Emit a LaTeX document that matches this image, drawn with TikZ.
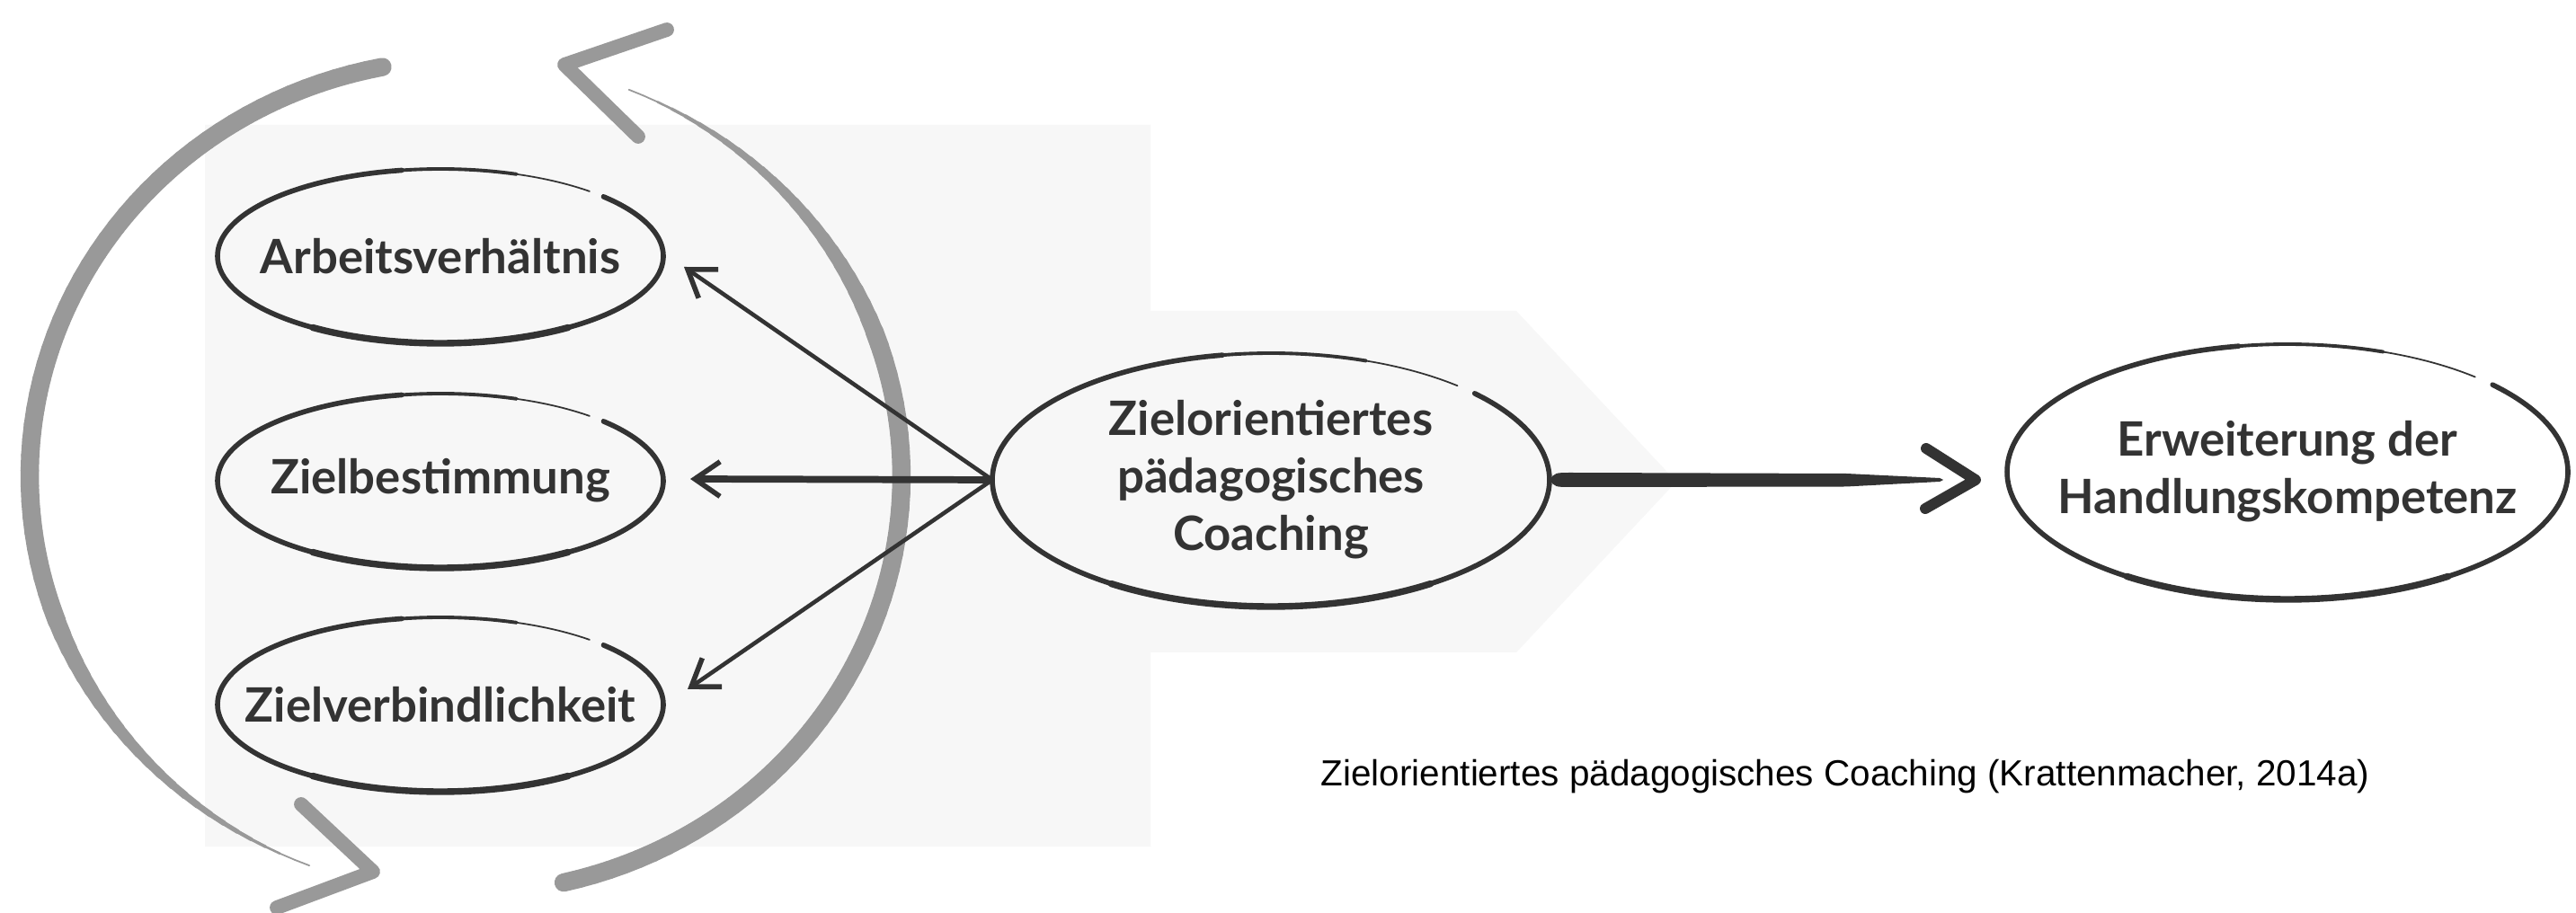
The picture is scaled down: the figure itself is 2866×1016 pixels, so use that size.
\documentclass[tikz,border=0pt]{standalone}
\usepackage{fontspec}
\newfontfamily\labelfont{Lato}
\newfontfamily\captionfont{Liberation Sans}
\usetikzlibrary{shapes.geometric,arrows.meta,calc}
\definecolor{ink}{HTML}{333333}
\definecolor{loopgray}{HTML}{999999}
\definecolor{panel}{HTML}{F7F7F7}

% hand-drawn oval outline around a node: node name, x radius, y radius
\newcommand\handoval[3]{%
  \begin{scope}[shift={(#1.center)}]
    \draw[ovalline] plot[domain=100:403, samples=90, smooth] ({#2*cos(\x)},{-#3*sin(\x)});
    \draw[ovalline, line width=2.1pt] plot[domain=235:305, samples=30, smooth] ({#2*cos(\x)},{-#3*sin(\x)});
    \draw[ovalline, line width=1.1pt] plot[domain=70:100, samples=12, smooth] ({#2*cos(\x)},{-#3*sin(\x)});
    \draw[ovalline, line width=0.5pt] plot[domain=48:70, samples=10, smooth] ({#2*cos(\x)},{-#3*sin(\x)});
  \end{scope}}

\begin{document}
\begin{tikzpicture}[x=0.01cm,y=-0.01cm,
  concept/.style={ellipse, inner sep=0pt, text=ink, align=center,
    font=\labelfont\bfseries\fontsize{15}{18.2}\selectfont},
  ovalline/.style={draw=ink, line width=1.6pt, line cap=round},
  feed/.style={draw=ink, line width=1.3pt,
    -{Straight Barb[length=8pt,width=11pt,line width=1.6pt]}},
  swirl/.style={draw=loopgray, line cap=round, line join=round}
]
\useasboundingbox (0,0) rectangle (2866,1016);
\fill[white] (0,0) rectangle (2866,1016);

% light panel behind the goal cluster and the coaching node
\fill[panel] (228,139) -- (1280,139) -- (1280,346) -- (1687,346) -- (1865,536)
  -- (1687,726) -- (1280,726) -- (1280,942) -- (228,942) -- cycle;

% circular brush arrows around the three goals
\foreach \i in {0,...,69}{
  \pgfmathsetmacro\ta{101+\i*148/70}
  \pgfmathsetmacro\tb{101+(\i+1)*148/70}
  \pgfmathsetmacro\w{\i<46 ? 5.8 : max(0.5, 5.8*(70-\i)/24)}
  \draw[swirl, line width=\w pt] ({518+485*cos(\ta)},{530-464*sin(\ta)}) -- ({518+485*cos(\tb)},{530-464*sin(\tb)});
}
\foreach \i in {0,...,69}{
  \pgfmathsetmacro\ta{-77+\i*145/70}
  \pgfmathsetmacro\tb{-77+(\i+1)*145/70}
  \pgfmathsetmacro\w{\i<46 ? 5.8 : max(0.5, 5.8*(70-\i)/24)}
  \draw[swirl, line width=\w pt] ({518+485*cos(\ta)},{530-464*sin(\ta)}) -- ({518+485*cos(\tb)},{530-464*sin(\tb)});
}
\draw[swirl, line width=4.5pt] (742,33) -- (628,72) -- (710,152);
\draw[swirl, line width=4.5pt] (335,895) -- (415,970) -- (308,1010);

% concepts
\node[concept, minimum width=4.96cm, minimum height=1.94cm] (arb) at (490,285) {Arbeitsverhältnis};
\node[concept, minimum width=4.96cm, minimum height=1.94cm] (ziel) at (490,535) {Zielbestimmung};
\node[concept, minimum width=4.96cm, minimum height=1.94cm] (verb) at (490,784) {Zielverbindlichkeit};
\node[concept, minimum width=6.19cm, minimum height=2.82cm] (coach) at (1414,534) {Zielorientiertes\\pädagogisches\\Coaching};
\node[concept, minimum width=6.24cm, minimum height=2.84cm] (out) at (2545,525) {Erweiterung der\\Handlungskompetenz};

\handoval{arb}{248}{97}
\handoval{ziel}{248}{97}
\handoval{verb}{248}{97}
\handoval{coach}{310}{141}
\handoval{out}{312}{142}

% coaching acts on the three goal dimensions
\coordinate (cW) at ($(coach.center)+(-310,0)$);
\draw[feed] (cW) -- ($(arb.center)+(271,12)$);
\draw[feed, line width=2.2pt] (cW) -- ($(ziel.center)+(278,-2)$);
\draw[feed] (cW) -- ($(verb.center)+(275,-17)$);

% coaching leads to extended competence
\coordinate (cE) at ($(coach.center)+(310,0)$);
\coordinate (tipR) at ($(coach.center -| out.center)+(-347,0)$);
\fill[ink] (cE) .. controls ($(cE)+(6,-8)$) .. ($(cE)+(25,-8)$)
  -- ($(cE)+(330,-7)$) -- ($(tipR)+(-40,-2)$) -- ($(tipR)+(-36,0)$) -- ($(tipR)+(-40,2)$)
  -- ($(cE)+(330,7.5)$) -- ($(cE)+(25,8)$)
  .. controls ($(cE)+(6,8)$) .. (cE) -- cycle;
\draw[ink, line width=3.4pt, line cap=round, line join=round]
  ($(tipR)+(-55,-35)$) -- (tipR) -- ($(tipR)+(-56,32)$);

\node[anchor=base west, inner sep=0pt, text=black,
  font=\captionfont\fontsize{11.5}{14}\selectfont] (cap) at (1469,874)
  {Zielorientiertes pädagogisches Coaching (Krattenmacher, 2014a)};
\end{tikzpicture}
\end{document}
